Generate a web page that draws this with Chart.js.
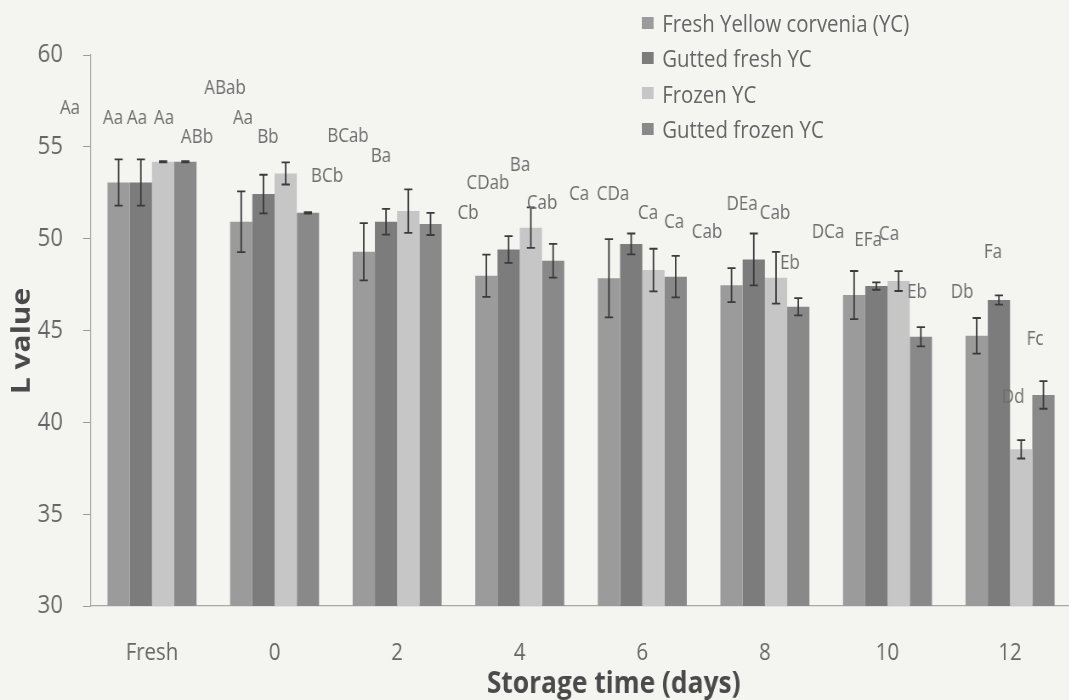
<!DOCTYPE html>
<html><head><meta charset="utf-8">
<script src="https://cdn.jsdelivr.net/npm/chart.js@4.4.1/dist/chart.umd.min.js"></script>
<style>
html,body{margin:0;padding:0;overflow:hidden;background:#f4f4f1;width:1069px;height:700px}
#wrap{position:absolute;left:0;top:0;width:1265px;height:700px;transform:scaleX(0.85);transform-origin:0 0}
#legend{position:absolute;left:755px;top:5px;font-family:'Open Sans',sans-serif;font-size:24px;color:#666}
.row{display:flex;align-items:center;height:35.3px;white-space:nowrap}
.sw{width:14px;height:12px;margin-right:10px}
</style></head><body>
<div id="wrap"><canvas id="c" width="1265" height="700"></canvas><div id="legend"></div></div>
<script>
// ---- data ----
const categories = ['Fresh', '0', '2', '4', '6', '8', '10', '12'];
const seriesNames = ['Fresh Yellow corvenia (YC)', 'Gutted fresh YC', 'Frozen YC', 'Gutted frozen YC'];
const freshYC        = [53.06, 50.92, 49.29, 47.98, 47.84, 47.47, 46.93, 44.71];
const guttedFreshYC  = [53.06, 52.43, 50.92, 49.41, 49.71, 48.87, 47.42, 46.66];
const frozenYC       = [54.19, 53.55, 51.50, 50.60, 48.29, 47.87, 47.69, 38.53];
const guttedFrozenYC = [54.19, 51.41, 50.80, 48.80, 47.93, 46.29, 44.66, 41.49];
const errFreshYC        = [1.26, 1.65, 1.56, 1.15, 2.13, 0.93, 1.31, 0.97];
const errGuttedFreshYC  = [1.26, 1.05, 0.70, 0.73, 0.57, 1.41, 0.20, 0.25];
const errFrozenYC       = [0.03, 0.60, 1.18, 1.10, 1.16, 1.41, 0.54, 0.50];
const errGuttedFrozenYC = [0.03, 0.04, 0.60, 0.92, 1.13, 0.47, 0.52, 0.75];
const yTicks = [30, 35, 40, 45, 50, 55, 60];
// significance letters: text, category position (index units), L value height
const annotText = ['Aa','Aa','Aa','Aa','ABb','ABab','Aa','Bb','BCb','BCab','Ba','CDab','Cb','Ba','Cab','Ca','CDa','Ca','Ca','Cab','DEa','Cab','Eb','DCa','EFa','Ca','Eb','Db','Fa','Fc','Dd'];
const annotCat  = [-0.669,-0.318,-0.122,0.098,0.367,0.596,0.742,0.946,1.428,1.599,1.868,2.741,2.578,3.002,3.182,3.484,3.761,4.047,4.259,4.528,4.814,5.083,5.205,5.515,5.842,6.013,6.241,6.608,6.861,7.204,7.025];
const annotVal  = [57.11,56.56,56.56,56.56,55.53,58.20,56.56,55.53,53.41,55.59,54.50,53.03,51.39,54.01,51.94,52.43,52.43,51.39,50.90,50.36,51.88,51.39,48.67,50.36,49.92,50.25,47.09,47.09,49.27,44.53,41.38];

const colors = ['#9b9b9b', '#7c7c7c', '#c6c6c6', '#898989'];
const values = [freshYC, guttedFreshYC, frozenYC, guttedFrozenYC];
const errors = [errFreshYC, errGuttedFreshYC, errFrozenYC, errGuttedFrozenYC];

// legend (HTML)
const lg = document.getElementById('legend');
seriesNames.forEach((n, i) => {
  const r = document.createElement('div'); r.className = 'row';
  const s = document.createElement('span'); s.className = 'sw'; s.style.background = colors[i];
  const t = document.createElement('span'); t.textContent = n;
  r.appendChild(s); r.appendChild(t); lg.appendChild(r);
});

Chart.defaults.font.family = "'Open Sans', sans-serif";

const overlay = {
  id: 'overlay',
  afterDatasetsDraw(chart) {
    const { ctx, scales: { x, y } } = chart;
    ctx.save();
    ctx.strokeStyle = '#3a3a3a';
    ctx.lineWidth = 1.8;
    chart.data.datasets.forEach((ds, di) => {
      const meta = chart.getDatasetMeta(di);
      meta.data.forEach((bar, i) => {
        const v = ds.data[i], e = errors[di][i];
        const yt = y.getPixelForValue(v + e), yb = y.getPixelForValue(v - e);
        const cx = bar.x, cw = 4.8;
        ctx.beginPath();
        ctx.moveTo(cx, yt); ctx.lineTo(cx, yb);
        ctx.moveTo(cx - cw, yt); ctx.lineTo(cx + cw, yt);
        ctx.moveTo(cx - cw, yb); ctx.lineTo(cx + cw, yb);
        ctx.stroke();
      });
    });
    ctx.fillStyle = '#6e6e6e';
    ctx.font = "20px 'Open Sans'";
    ctx.textAlign = 'center';
    ctx.textBaseline = 'middle';
    annotText.forEach((t, k) => {
      ctx.fillText(t, x.getPixelForValue(annotCat[k]), y.getPixelForValue(annotVal[k]));
    });
    // axis titles
    ctx.fillStyle = '#4a4a4a';
    ctx.font = "bold 31px 'Open Sans'";
    ctx.fillText('Storage time (days)', 722, 684);
    ctx.translate(26, 341);
    ctx.rotate(-Math.PI / 2);
    ctx.font = "bold 30px 'Open Sans'";
    ctx.fillText('L value', 0, 0);
    ctx.restore();
  }
};

new Chart(document.getElementById('c'), {
  type: 'bar',
  data: {
    labels: categories,
    datasets: seriesNames.map((n, i) => ({
      label: n, data: values[i], backgroundColor: colors[i], borderWidth: 0,
      barPercentage: 1.0, categoryPercentage: 0.726
    }))
  },
  options: {
    responsive: false,
    animation: false,
    layout: { padding: { left: 0, top: 55, right: 4.6, bottom: 0 } },
    plugins: { legend: { display: false }, title: { display: false }, tooltip: { enabled: false } },
    scales: {
      x: {
        afterFit(s) { s.height = 94; },
        grid: { display: true, drawOnChartArea: false, drawTicks: false },
        border: { display: true, color: '#a8a8a8', width: 1.2 },
        ticks: { color: '#666', font: { size: 24 }, padding: 33, maxRotation: 0 }
      },
      y: {
        min: 30, max: 60,
        afterFit(s) { s.width = 106.7; },
        afterBuildTicks(s) { s.ticks = yTicks.map(v => ({ value: v })); },
        grid: { display: true, drawOnChartArea: false, drawTicks: true, tickLength: 9, color: '#9a9a9a' },
        border: { display: true, color: '#a8a8a8', width: 1.2 },
        ticks: { color: '#666', font: { size: 26 }, padding: 23.6 }
      }
    }
  },
  plugins: [overlay]
});
</script>
</body></html>
